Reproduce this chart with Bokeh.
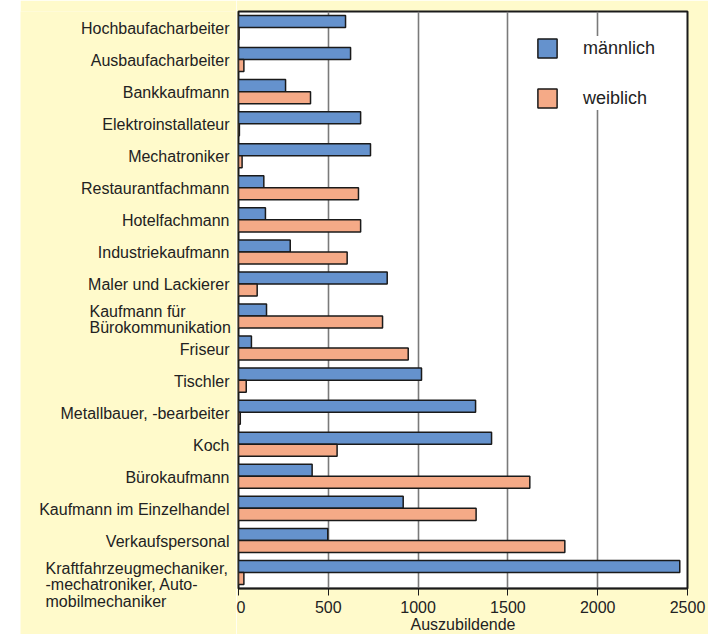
from bokeh.plotting import figure
from bokeh.models import FactorRange, Range1d, FixedTicker, ColumnDataSource, Spacer
from bokeh.layouts import row
from bokeh.transform import dodge
from bokeh.core.properties import value
from bokeh.embed import file_html
from bokeh.resources import INLINE

categories = [
    "Hochbaufacharbeiter",
    "Ausbaufacharbeiter",
    "Bankkaufmann",
    "Elektroinstallateur",
    "Mechatroniker",
    "Restaurantfachmann",
    "Hotelfachmann",
    "Industriekaufmann",
    "Maler und Lackierer",
    "Kaufmann für\nBürokommunikation",
    "Friseur",
    "Tischler",
    "Metallbauer, -bearbeiter",
    "Koch",
    "Bürokaufmann",
    "Kaufmann im Einzelhandel",
    "Verkaufspersonal",
    "Kraftfahrzeugmechaniker,\n-mechatroniker, Auto-\nmobilmechaniker",
]
maennlich = [596, 624, 262, 680, 735, 141, 150, 288, 828, 156, 72, 1019, 1320, 1409, 410, 917, 497, 2457]
weiblich = [3, 30, 401, 5, 20, 668, 680, 605, 104, 802, 945, 43, 10, 549, 1622, 1323, 1817, 30]
x_ticks = [0, 500, 1000, 1500, 2000, 2500]

FONT = "Liberation Sans"
TXT = "#222222"
BLUE = "#6592CD"
SALMON = "#F5AA87"
YELLOW = "#FFFACB"

# layout constants (pixels)
PAD_LEFT = 20
LABEL_W = 216
TOP, BOTTOM = 11, 46
FW, FH = 449, 577

src = ColumnDataSource(dict(cat=categories, m=maennlich, w=weiblich))

p = figure(
    y_range=FactorRange(factors=categories[::-1]),
    x_range=Range1d(0, 2500),
    frame_width=FW, frame_height=FH,
    min_border_left=2, min_border_right=21, min_border_top=TOP, min_border_bottom=BOTTOM,
    y_axis_location=None,
    output_backend="svg", toolbar_location=None,
    background_fill_color="white", border_fill_color=YELLOW,
)

p.hbar(y=dodge("cat", 0.1875, range=p.y_range), left=0, right="m", height=0.375, source=src,
       fill_color=BLUE, line_color="#1a1a1a", line_width=1.5, legend_label="männlich")
p.hbar(y=dodge("cat", -0.1875, range=p.y_range), left=0, right="w", height=0.375, source=src,
       fill_color=SALMON, line_color="#1a1a1a", line_width=1.5, legend_label="weiblich")

p.outline_line_color = "#1a1a1a"
p.outline_line_width = 2

p.ygrid.grid_line_color = None
p.xgrid.ticker = FixedTicker(ticks=x_ticks)
p.xgrid.grid_line_color = "#7a7a7a"
p.xgrid.grid_line_width = 1.6

p.xaxis.ticker = FixedTicker(ticks=x_ticks)
p.xaxis.minor_tick_line_color = None
p.xaxis.major_tick_out = 7
p.xaxis.major_tick_in = 0
p.xaxis.major_tick_line_color = "#1a1a1a"
p.xaxis.axis_line_color = "#1a1a1a"
p.xaxis.axis_line_width = 1.5
p.xaxis.major_label_standoff = 5
p.xaxis.axis_label = "Auszubildende"
p.xaxis.axis_label_standoff = 0
p.xaxis.axis_label_text_font = FONT
p.xaxis.axis_label_text_font_size = "16px"
p.xaxis.axis_label_text_font_style = "normal"
p.xaxis.axis_label_text_color = TXT
p.xaxis.major_label_text_font = FONT
p.xaxis.major_label_text_font_size = "16px"
p.xaxis.major_label_text_color = TXT

lg = p.legend[0]
lg.location = (297, 478)
lg.glyph_width = 24
lg.glyph_height = 24
lg.label_height = 24
lg.label_standoff = 24
lg.spacing = 26
lg.padding = 15
lg.margin = 0
lg.border_line_color = None
lg.background_fill_color = "white"
lg.background_fill_alpha = 1.0
lg.label_text_font = FONT
lg.label_text_font_size = "18px"
lg.label_text_color = TXT

# ---- category label panel (left of the chart) ----
n = len(categories)
unit = FH / n
lab = figure(
    x_range=Range1d(0, LABEL_W),
    y_range=Range1d(-BOTTOM / unit, n + TOP / unit),
    frame_width=LABEL_W, frame_height=TOP + FH + BOTTOM,
    min_border_left=0, min_border_right=0, min_border_top=0, min_border_bottom=0,
    x_axis_location=None, y_axis_location=None,
    output_backend="svg", toolbar_location=None,
    background_fill_color=YELLOW, border_fill_color=YELLOW,
)
lab.outline_line_color = None
lab.grid.visible = False

BASE_DY = -12                      # empirical baseline correction
label_right = LABEL_W - 7          # right edge of single-line labels
block_left = {9: 69, 17: 25}       # left edge of multi-line blocks
block_dy = {9: 4.5, 17: 13.5}
lx, la, ly, ldy = [], [], [], []
for i, cat in enumerate(categories):
    ly.append(n - i - 0.5)
    if i in block_left:
        lx.append(block_left[i]); la.append("left"); ldy.append(block_dy[i] + BASE_DY)
    else:
        lx.append(label_right); la.append("right"); ldy.append(2 + BASE_DY)
lsrc = ColumnDataSource(dict(x=lx, y=ly, text=categories, align=la, dy=ldy))
lab.text(x="x", y="y", text="text", source=lsrc, text_align="align", y_offset="dy",
         text_baseline="middle", text_font=value(FONT), text_font_size="16px",
         text_color=TXT, text_line_height=0.95)

layout = row(Spacer(width=PAD_LEFT, height=10), lab, p)

open("out.html", "w").write(file_html(layout, INLINE))
